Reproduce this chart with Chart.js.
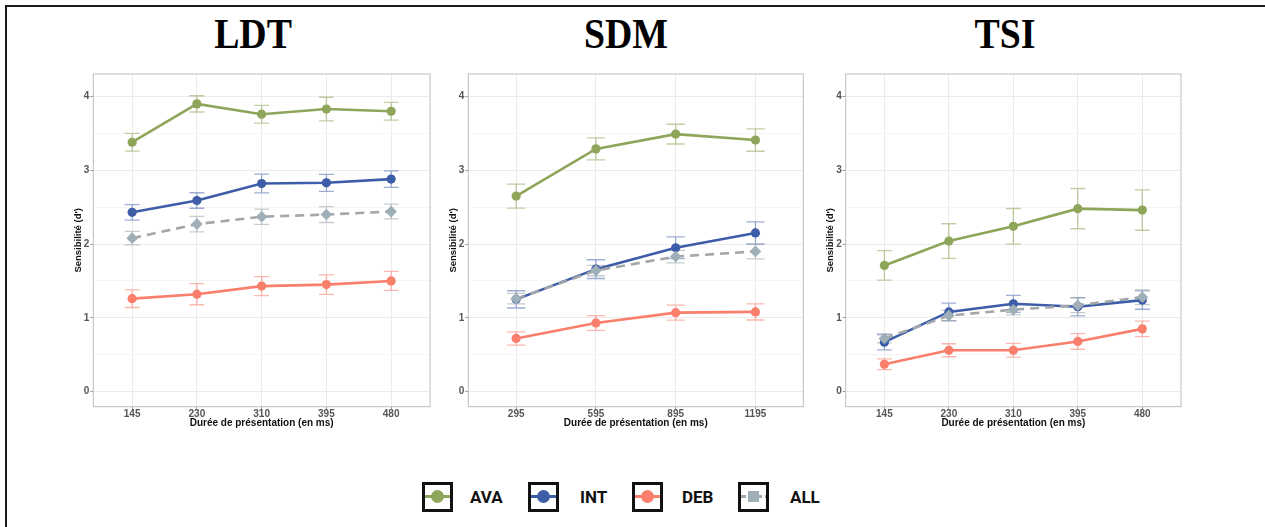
<!DOCTYPE html>
<html><head><meta charset="utf-8">
<script src="https://cdn.jsdelivr.net/npm/chart.js@4/dist/chart.umd.min.js"></script>
<style>
html,body{margin:0;padding:0;background:#fff;}
#page{position:relative;width:1265px;height:527px;overflow:hidden;background:#fff;}
#frame{position:absolute;left:5px;top:5px;width:1400px;height:700px;border-top:2px solid #1a1a1a;border-left:2px solid #1a1a1a;}
.ttl{position:absolute;top:13px;width:200px;text-align:center;font-family:"Liberation Serif","Times New Roman",serif;font-weight:bold;font-size:42px;line-height:42px;transform:scaleX(0.9);transform-origin:center;color:#000;white-space:nowrap;}
canvas{position:absolute;}
.lgbox{position:absolute;top:482px;width:25px;height:24px;border:3px solid #111;}
.lgline{position:absolute;left:0;right:0;top:10px;height:3px;}
.lgdot{position:absolute;left:6px;top:5px;width:13px;height:13px;border-radius:50%;}
.lgsq{position:absolute;left:7px;top:6px;width:11px;height:11px;}
.lgtxt{position:absolute;top:486px;font-family:Roboto,"Liberation Sans",sans-serif;font-weight:bold;font-size:17px;line-height:22px;color:#111;}
</style></head>
<body>
<div id="page">
  <div id="frame"></div>
  <div class="ttl" id="t1" style="left:153px">LDT</div>
  <div class="ttl" id="t2" style="left:526px">SDM</div>
  <div class="ttl" id="t3" style="left:905px">TSI</div>
  <canvas id="c1"></canvas>
  <canvas id="c2"></canvas>
  <canvas id="c3"></canvas>
  <div id="legend"></div>
</div>
<script>
// ---------------- data ----------------
const ldtCats = ['145', '230', '310', '395', '480'];
const sdmCats = ['295', '595', '895', '1195'];
const tsiCats = ['145', '230', '310', '395', '480'];
const yTickValues = [0, 0.5, 1, 1.5, 2, 2.5, 3, 3.5, 4];
const groupNames = ['AVA', 'INT', 'DEB', 'ALL'];

const ldtAVA = [3.38, 3.90, 3.76, 3.83, 3.80];
const ldtINT = [2.43, 2.59, 2.82, 2.83, 2.88];
const ldtDEB = [1.26, 1.32, 1.43, 1.45, 1.50];
const ldtALL = [2.08, 2.27, 2.37, 2.40, 2.44];
const ldtAVAErr = [0.12, 0.11, 0.12, 0.16, 0.12];
const ldtINTErr = [0.105, 0.105, 0.127, 0.115, 0.113];
const ldtDEBErr = [0.12, 0.143, 0.129, 0.131, 0.129];
const ldtALLErr = [0.092, 0.104, 0.104, 0.108, 0.10];

const sdmAVA = [2.65, 3.29, 3.49, 3.41];
const sdmINT = [1.25, 1.66, 1.95, 2.15];
const sdmDEB = [0.72, 0.93, 1.07, 1.08];
const sdmALL = [1.26, 1.64, 1.83, 1.90];
const sdmAVAErr = [0.163, 0.15, 0.134, 0.152];
const sdmINTErr = [0.117, 0.127, 0.147, 0.15];
const sdmDEBErr = [0.089, 0.10, 0.102, 0.11];
const sdmALLErr = [0.07, 0.07, 0.085, 0.10];

const tsiAVA = [1.71, 2.04, 2.24, 2.48, 2.46];
const tsiINT = [0.67, 1.08, 1.19, 1.15, 1.24];
const tsiDEB = [0.37, 0.56, 0.56, 0.68, 0.85];
const tsiALL = [0.72, 1.03, 1.11, 1.17, 1.28];
const tsiAVAErr = [0.20, 0.235, 0.242, 0.273, 0.273];
const tsiINTErr = [0.104, 0.118, 0.115, 0.123, 0.124];
const tsiDEBErr = [0.072, 0.088, 0.093, 0.106, 0.106];
const tsiALLErr = [0.06, 0.07, 0.07, 0.10, 0.10];

// ---------------- styles ----------------
const STY = {
  AVA: {line: '#8EA55A', point: '#8EA55A', err: 'rgba(142,165,90,0.55)', shape: 'circle', radius: 4.6, dash: [], order: 3},
  INT: {line: '#3D5DA8', point: '#3D5DA8', err: 'rgba(61,93,168,0.5)', shape: 'circle', radius: 4.6, dash: [], order: 2},
  DEB: {line: '#F97E6C', point: '#F97E6C', err: 'rgba(249,126,108,0.55)', shape: 'circle', radius: 4.6, dash: [], order: 4},
  ALL: {line: '#A4A7AA', point: '#9EAFB8', err: 'rgba(150,160,168,0.55)', shape: 'rectRot', radius: 5.8, dash: [9, 6], order: 1}
};
const CAP = 0.115;
Chart.defaults.font.family = "'Liberation Sans', Arial, sans-serif";

const panelPlugin = {
  id: 'panelStuff',
  beforeDatasetsDraw(chart) {
    const {ctx, scales: {x, y}} = chart;
    chart.data.datasets.forEach(ds => {
      ctx.save();
      ctx.strokeStyle = ds.errColor;
      ctx.lineWidth = 1.3;
      ds.data.forEach((p, i) => {
        const e = ds.errs[i];
        const px = x.getPixelForValue(p.x);
        const x0 = x.getPixelForValue(p.x - CAP), x1 = x.getPixelForValue(p.x + CAP);
        const yt = y.getPixelForValue(p.y + e), yb = y.getPixelForValue(p.y - e);
        ctx.beginPath();
        ctx.moveTo(px, yt); ctx.lineTo(px, yb);
        ctx.moveTo(x0, yt); ctx.lineTo(x1, yt);
        ctx.moveTo(x0, yb); ctx.lineTo(x1, yb);
        ctx.stroke();
      });
      ctx.restore();
    });
  },
  afterDatasetsDraw(chart) {
    const {ctx, chartArea: a} = chart;
    ctx.save();
    ctx.strokeStyle = '#BDBDBD';
    ctx.lineWidth = 1;
    ctx.strokeRect(a.left, a.top, a.right - a.left, a.bottom - a.top);
    ctx.restore();
  }
};

function makePanel(id, cats, vals, errs, plot) {
  const canvas = document.getElementById(id);
  const yW = 20.7, xH = 22.3, padR = 6, padT = 8, padB = 2;
  const cl = Math.floor(plot.left - yW - 8);
  const ct = Math.floor(plot.top - padT);
  const padL = plot.left - yW - cl;
  const padTop = plot.top - ct;
  const cw = Math.ceil(plot.right + padR - cl);
  const padRight = cw - (plot.right - cl);
  const ch = Math.ceil(plot.bottom + xH + padB - ct);
  const padBottom = ch - (plot.bottom + xH - ct);
  canvas.width = cw; canvas.height = ch;
  canvas.style.left = cl + 'px'; canvas.style.top = ct + 'px';
  canvas.style.width = cw + 'px'; canvas.style.height = ch + 'px';

  const datasets = groupNames.map((g, k) => {
    const s = STY[g];
    return {
      label: g,
      data: vals[k].map((v, i) => ({x: i, y: v})),
      errs: errs[k],
      errColor: s.err,
      borderColor: s.line,
      backgroundColor: s.point,
      pointBackgroundColor: s.point,
      pointBorderColor: s.point,
      pointBorderWidth: 0,
      pointRadius: s.radius,
      pointStyle: s.shape,
      borderWidth: 2.6,
      borderDash: s.dash,
      order: s.order,
      tension: 0
    };
  });

  new Chart(canvas, {
    type: 'line',
    data: {datasets},
    plugins: [panelPlugin],
    options: {
      responsive: false, animation: false, devicePixelRatio: 1,
      layout: {padding: {left: padL, right: padRight, top: padTop, bottom: padBottom}},
      plugins: {legend: {display: false}, tooltip: {enabled: false}},
      scales: {
        x: {
          type: 'linear', min: -0.6, max: cats.length - 0.4,
          afterBuildTicks: s => { s.ticks = cats.map((c, i) => ({value: i})); },
          afterFit: s => { s.height = xH; },
          ticks: {callback: v => cats[v], font: {size: 10, weight: 'bold'}, color: '#555', padding: -1, maxRotation: 0, autoSkip: false},
          grid: {color: '#EBEBEB', lineWidth: 1, tickLength: 3, tickColor: '#999'},
          border: {display: false},
          title: {display: true, text: 'Durée de présentation (en ms)', font: {size: 10, weight: 'bold'}, color: '#111', padding: 0}
        },
        y: {
          type: 'linear', min: -0.205, max: 4.305,
          afterBuildTicks: s => { s.ticks = yTickValues.map(v => ({value: v})); },
          afterFit: s => { s.width = yW; },
          ticks: {callback: v => (v % 1 === 0 ? String(v) : ''), font: {size: 10, weight: 'bold'}, color: '#555', padding: 1},
          grid: {
            color: c => (c.tick && c.tick.value % 1 === 0 ? '#EBEBEB' : '#F5F5F5'),
            tickColor: c => (c.tick && c.tick.value % 1 === 0 ? '#999' : 'rgba(0,0,0,0)'),
            lineWidth: 1, tickLength: 3
          },
          border: {display: false},
          title: {display: true, text: "Sensibilité (d')", font: {size: 9.5, weight: 'bold'}, color: '#111', padding: 0}
        }
      }
    }
  });
}

makePanel('c1', ldtCats, [ldtAVA, ldtINT, ldtDEB, ldtALL], [ldtAVAErr, ldtINTErr, ldtDEBErr, ldtALLErr],
  {left: 93.3, right: 430, top: 74, bottom: 406.7});
makePanel('c2', sdmCats, [sdmAVA, sdmINT, sdmDEB, sdmALL], [sdmAVAErr, sdmINTErr, sdmDEBErr, sdmALLErr],
  {left: 468.3, right: 803.3, top: 74, bottom: 406.7});
makePanel('c3', tsiCats, [tsiAVA, tsiINT, tsiDEB, tsiALL], [tsiAVAErr, tsiINTErr, tsiDEBErr, tsiALLErr],
  {left: 845.7, right: 1181, top: 74, bottom: 406.7});

// ---------------- legend ----------------
const legendPos = [{box: 422, txt: 470}, {box: 528, txt: 580}, {box: 632, txt: 682}, {box: 738, txt: 790}];
const lg = document.getElementById('legend');
groupNames.forEach((g, k) => {
  const s = STY[g];
  const box = document.createElement('div');
  box.className = 'lgbox';
  box.style.left = legendPos[k].box + 'px';
  const line = document.createElement('div');
  line.className = 'lgline';
  if (g === 'ALL') {
    line.style.background = 'repeating-linear-gradient(90deg,' + s.line + ' 0 5px, transparent 5px 8px)';
  } else {
    line.style.background = s.line;
  }
  box.appendChild(line);
  const mk = document.createElement('div');
  mk.className = g === 'ALL' ? 'lgsq' : 'lgdot';
  mk.style.background = s.point;
  box.appendChild(mk);
  lg.appendChild(box);
  const t = document.createElement('div');
  t.className = 'lgtxt';
  t.style.left = legendPos[k].txt + 'px';
  t.textContent = g;
  lg.appendChild(t);
});
</script>
</body></html>
